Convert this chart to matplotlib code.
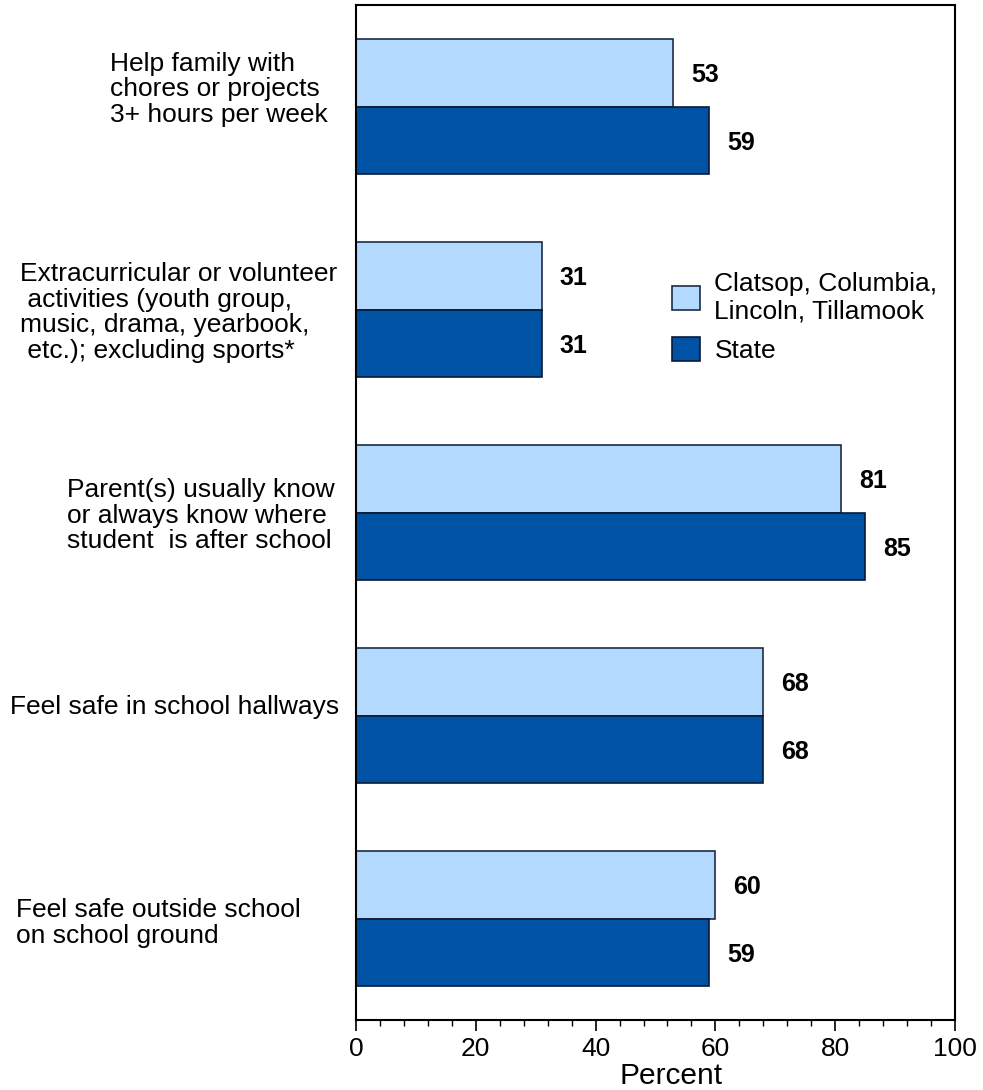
import numpy as np
import matplotlib.pyplot as plt
from matplotlib.patches import Patch
from matplotlib.ticker import MultipleLocator
from matplotlib.transforms import blended_transform_factory

plt.rcParams['font.family'] = ['Liberation Sans', 'DejaVu Sans']

# Data
categories = [
    "Help family with\nchores or projects\n3+ hours per week",
    "Extracurricular or volunteer\n activities (youth group,\nmusic, drama, yearbook,\n etc.); excluding sports*",
    "Parent(s) usually know\nor always know where\nstudent  is after school",
    "Feel safe in school hallways",
    "Feel safe outside school\non school ground",
]
region = [53, 31, 81, 68, 60]
state = [59, 31, 85, 68, 59]
series_names = ["Clatsop, Columbia,\nLincoln, Tillamook", "State"]

# label placement (left edge in px, y offset in category units)
label_x = [110, 20, 67, 10, 16]
label_dy = [-0.084, 0.015, 0.015, -0.04, 0.02]

light = "#B3D9FF"
dark = "#0052A5"
edge_light = "#1c2b45"
edge_dark = "#0a1a33"

W, H = 983, 1090
fig = plt.figure(figsize=(W / 100, H / 100), dpi=100)
ax = fig.add_axes([356 / W, 1 - 1020 / H, (955 - 356) / W, (1020 - 5) / H])

y = np.arange(len(categories))
h = 0.333
ax.barh(y - h / 2, region, height=h, color=light, edgecolor=edge_light, linewidth=1.2)
ax.barh(y + h / 2, state, height=h, color=dark, edgecolor=edge_dark, linewidth=1.2)

for i in range(len(categories)):
    ax.text(region[i] + 3, y[i] - h / 2 + 0.012, str(region[i]), ha='left', va='center',
            fontsize=18, fontweight='bold')
    ax.text(state[i] + 3, y[i] + h / 2 + 0.012, str(state[i]), ha='left', va='center',
            fontsize=18, fontweight='bold')

trans = blended_transform_factory(fig.transFigure, ax.transData)
for i, lab in enumerate(categories):
    ax.text(label_x[i] / W, y[i] + label_dy[i], lab, transform=trans,
            ha='left', va='center', fontsize=19, linespacing=1.1)

ax.set_xlim(0, 100)
ax.set_ylim(len(categories) - 0.5, -0.5)
ax.set_yticks([])
ax.xaxis.set_major_locator(MultipleLocator(20))
ax.xaxis.set_minor_locator(MultipleLocator(4))
ax.tick_params(axis='x', which='major', length=8, width=1.2, labelsize=19, pad=4)
ax.tick_params(axis='x', which='minor', length=4, width=1.0)
ax.set_xlabel("Percent", fontsize=21.5)
ax.xaxis.set_label_coords(0.526, -0.0415)
for s in ax.spines.values():
    s.set_linewidth(1.5)

handles = [Patch(facecolor=light, edgecolor=edge_light, linewidth=1.2),
           Patch(facecolor=dark, edgecolor=edge_dark, linewidth=1.2)]
ax.legend(handles, series_names, loc='upper left', bbox_to_anchor=(0.515, 0.745),
          frameon=False, fontsize=19, handlelength=1.06, handleheight=1.06,
          handletextpad=0.53, labelspacing=0.5, borderaxespad=0, borderpad=0.3)

fig.savefig("out.png", dpi=100)
